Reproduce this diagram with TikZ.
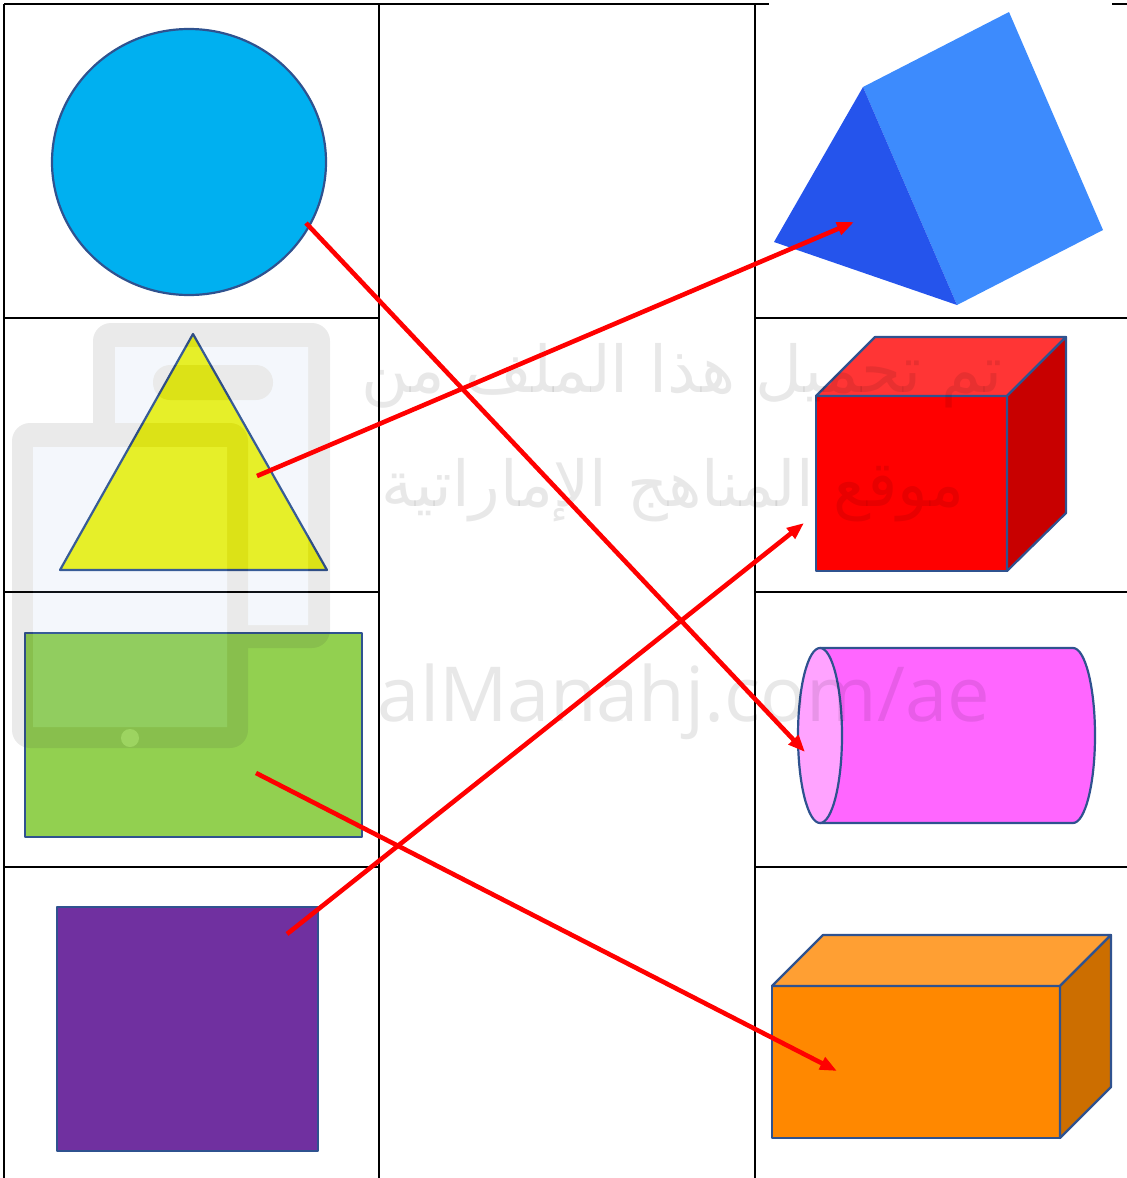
\documentclass[tikz,border=0pt]{standalone}
\usepackage{fontspec}
\usepackage{graphicx}
\usepackage{xcolor}
\usetikzlibrary{arrows.meta}
\TeXXeTstate=1
\setmainfont{Open Sans}
\newfontfamily\arabicfont[Script=Arabic]{DejaVu Sans}
\definecolor{shapeEdge}{HTML}{2F528F}
\definecolor{circBlue}{HTML}{00B0F0}
\definecolor{triYellow}{HTML}{F0F614}
\definecolor{rectGreen}{HTML}{92D050}
\definecolor{sqPurple}{HTML}{7030A0}
\definecolor{prismFront}{HTML}{2554EC}
\definecolor{prismSide}{HTML}{3D8BFD}
\definecolor{cubeFront}{HTML}{FF0000}
\definecolor{cubeTop}{HTML}{FF3535}
\definecolor{cubeSide}{HTML}{C80000}
\definecolor{cylBody}{HTML}{FF66FF}
\definecolor{cylCap}{HTML}{FFA3FF}
\definecolor{boxFront}{HTML}{FF8800}
\definecolor{boxTop}{HTML}{FF9F33}
\definecolor{boxSide}{HTML}{CC6E00}
\definecolor{markFrame}{HTML}{333333}
\definecolor{markScreen}{HTML}{8FB5E6}
\tikzset{
  gridline/.style={draw=black, line width=2.3pt},
  flat/.style={draw=shapeEdge, line width=2.2pt, line join=round},
  match/.style={-{Triangle[length=17pt,width=13pt]}, draw=red, line width=4.6pt},
  wmtext/.style={anchor=base, text=black, text opacity=0.09, inner sep=0pt}
}

\begin{document}
\begin{tikzpicture}[x=1pt, y=-1pt,
  face/.style={draw=shapeEdge, line width=2.2pt, line join=round},
  pad/.style={fill=markFrame, rounded corners=18pt},
  screen/.style={fill=markScreen}
]
\useasboundingbox (0,0) rectangle (1127,1178);
\draw[gridline] (4,4) -- (769,4) (1112,4) -- (1127,4);
\draw[gridline] (4,4) -- (4,1178) (379,4) -- (379,1178) (755,4) -- (755,1178);
\foreach \yy in {318,592,867}{
  \draw[gridline] (4,\yy) -- (379,\yy) (755,\yy) -- (1127,\yy);
}

\filldraw[flat, fill=circBlue] (189,162) ellipse [x radius=137pt, y radius=133pt];
\filldraw[flat, fill=triYellow] (193,334) -- (327,570) -- (60,570) -- cycle;
\filldraw[flat, fill=rectGreen] (25,633) rectangle (362,837);
\filldraw[flat, fill=sqPurple] (57,907) rectangle (318,1151);

\fill[prismSide] (863,87) -- (1009,12) -- (1103,230) -- (957,305) -- cycle;
\fill[prismFront] (774,242) -- (863,87) -- (957,305) -- cycle;

\filldraw[face, fill=cubeFront] (816,396) rectangle (1007,571);
\filldraw[face, fill=cubeTop] (816,396) -- (875,337) -- (1066,337) -- (1007,396) -- cycle;
\filldraw[face, fill=cubeSide] (1007,396) -- (1066,337) -- (1066,513) -- (1007,571) -- cycle;

\filldraw[face, fill=cylBody] (820,648) -- (1073,648)
  arc[start angle=90, end angle=-90, x radius=22pt, y radius=87.5pt] -- (820,823) -- cycle;
\filldraw[face, fill=cylCap] (820,735.5) ellipse [x radius=22pt, y radius=87.5pt];

\filldraw[face, fill=boxFront] (772,986) rectangle (1060,1138);
\filldraw[face, fill=boxTop] (772,986) -- (823,935) -- (1111,935) -- (1060,986) -- cycle;
\filldraw[face, fill=boxSide] (1060,986) -- (1111,935) -- (1111,1087) -- (1060,1138) -- cycle;

\begin{scope}[transparency group, opacity=0.1]
  \fill[pad] (93,323) rectangle (330,648);
  \fill[screen] (115,347) rectangle (308,625);
  \fill[markFrame, rounded corners=17pt] (153,365) rectangle (273,400);
  \fill[pad] (12,423) rectangle (248,748);
  \fill[screen] (33,447) rectangle (227,727);
  \fill[white] (130,738) circle[radius=9pt];
\end{scope}

\node[wmtext] (wmLineA) at (682,392)
  {\resizebox{641pt}{!}{\arabicfont\beginR تم تحميل هذا الملف من\endR}};
\node[wmtext] (wmLineB) at (673,506)
  {\resizebox{583pt}{!}{\arabicfont\beginR موقع المناهج الإماراتية\endR}};
\node[wmtext] (wmLineC) at (684,721)
  {\resizebox{612pt}{!}{alManahj.com/ae}};

\coordinate (circTail) at (306,223);
\coordinate (cylHead) at (805,752);
\coordinate (triTail) at (257,476);
\coordinate (prismHead) at (854,222);
\coordinate (greenTail) at (256,773);
\coordinate (boxHead) at (837,1071);
\coordinate (purpleTail) at (287,934);
\coordinate (cubeHead) at (804,523);

\draw[match] (circTail) -- (cylHead);
\draw[match] (triTail) -- (prismHead);
\draw[match] (greenTail) -- (boxHead);
\draw[match] (purpleTail) -- (cubeHead);
\end{tikzpicture}
\end{document}
